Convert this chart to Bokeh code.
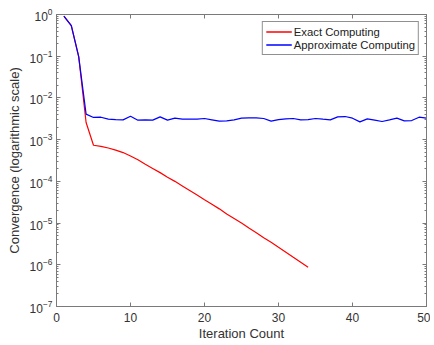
from bokeh.plotting import figure
from bokeh.models import (LinearAxis, LogAxis, FixedTicker, LogTickFormatter,
                          Legend, LegendItem)
from bokeh.embed import file_html
from bokeh.resources import INLINE

# ---- data ----
exact_iter = list(range(1, 35))
exact_conv = [0.91, 0.54, 0.098, 2.57e-3, 7.33e-4, 6.92e-4, 6.31e-4, 5.62e-4,
              4.90e-4, 4.07e-4, 3.31e-4, 2.57e-4, 2.04e-4, 1.62e-4, 1.26e-4,
              1.0e-4, 7.76e-5, 6.03e-5, 4.68e-5, 3.63e-5, 2.82e-5, 2.19e-5,
              1.66e-5, 1.29e-5, 1.0e-5, 7.59e-6, 5.89e-6, 4.47e-6, 3.47e-6,
              2.63e-6, 2.0e-6, 1.51e-6, 1.15e-6, 8.71e-7]

approx_iter = list(range(1, 51))
approx_conv = [0.91, 0.54, 0.098, 4.1e-3, 3.4e-3, 3.45e-3, 3.1e-3, 3.03e-3,
               2.98e-3, 3.65e-3, 2.93e-3, 2.98e-3, 2.93e-3, 3.52e-3, 2.93e-3,
               3.27e-3, 3.09e-3, 3.09e-3, 3.09e-3, 3.21e-3, 2.98e-3, 2.77e-3,
               2.82e-3, 2.98e-3, 3.27e-3, 3.33e-3, 3.33e-3, 3.21e-3, 2.77e-3,
               3.03e-3, 3.15e-3, 3.21e-3, 2.98e-3, 3.03e-3, 3.21e-3, 3.09e-3,
               2.98e-3, 3.52e-3, 3.58e-3, 3.27e-3, 2.67e-3, 3.15e-3, 2.93e-3,
               2.72e-3, 2.98e-3, 3.27e-3, 2.82e-3, 2.87e-3, 3.45e-3, 3.27e-3]

x_ticks = [0, 10, 20, 30, 40, 50]
y_ticks = [1e-7, 1e-6, 1e-5, 1e-4, 1e-3, 1e-2, 1e-1, 1e0]
y_minor = [m * 10.0 ** e for e in range(-7, 0) for m in range(2, 10)]

series_labels = ["Exact Computing", "Approximate Computing"]
series_colors = ["#ff0000", "#0000ff"]

FONT = "Liberation Sans"
AX_COL = "#7a7a7a"
TXT_COL = "#333333"

p = figure(width=430, height=343, y_axis_type="log",
           x_range=(0, 50), y_range=(1e-7, 1),
           output_backend="svg", toolbar_location=None,
           min_border_left=56, min_border_top=14, min_border_right=4,
           min_border_bottom=35)
p.background_fill_color = "white"
p.border_fill_color = "white"
p.xgrid.visible = False
p.ygrid.visible = False
p.outline_line_color = AX_COL
p.outline_line_width = 1

r_exact = p.line(exact_iter, exact_conv, line_color=series_colors[0], line_width=1.2)
r_approx = p.line(approx_iter, approx_conv, line_color=series_colors[1], line_width=1.2)

# legend keys: hidden copies placed outside the visible x range
k_exact = p.line([-10, -9], [1e-9, 1e-9], line_color=series_colors[0], line_width=1.6)
k_approx = p.line([-10, -9], [1e-9, 1e-9], line_color=series_colors[1], line_width=1.6)

xt = FixedTicker(ticks=x_ticks, minor_ticks=[])
yt = FixedTicker(ticks=y_ticks, minor_ticks=y_minor)


def style(ax, labels=True, standoff=4, label_standoff=4):
    ax.axis_line_color = AX_COL
    ax.major_tick_line_color = AX_COL
    ax.minor_tick_line_color = AX_COL
    ax.major_tick_in = 4
    ax.major_tick_out = 0
    ax.minor_tick_in = 2
    ax.minor_tick_out = 0
    ax.major_label_text_font = FONT
    ax.major_label_text_color = TXT_COL
    ax.axis_label_text_font = FONT
    ax.axis_label_text_color = TXT_COL
    ax.axis_label_text_font_style = "normal"
    if labels:
        ax.major_label_text_font_size = "12px"
        ax.axis_label_text_font_size = "13px"
        ax.major_label_standoff = standoff
        ax.axis_label_standoff = label_standoff
    else:
        ax.major_label_text_font_size = "0px"
        ax.major_label_standoff = 0
        ax.major_label_text_alpha = 0


xa = p.xaxis[0]
xa.ticker = xt
xa.axis_label = "Iteration Count"
style(xa, standoff=6, label_standoff=1)

ya = p.yaxis[0]
ya.ticker = yt
ya.formatter = LogTickFormatter()
ya.axis_label = "Convergence (logarithmic scale)"
style(ya, standoff=4, label_standoff=5)

top = LinearAxis(ticker=FixedTicker(ticks=x_ticks, minor_ticks=[]))
style(top, labels=False)
p.add_layout(top, "above")

right = LogAxis(ticker=FixedTicker(ticks=y_ticks, minor_ticks=y_minor))
style(right, labels=False)
p.add_layout(right, "right")

legend = Legend(items=[LegendItem(label=series_labels[0], renderers=[k_exact]),
                       LegendItem(label=series_labels[1], renderers=[k_approx])],
                location="top_right")
legend.margin = 7
legend.padding = 3
legend.spacing = 0
legend.label_height = 13
legend.glyph_height = 13
legend.glyph_width = 26
legend.label_standoff = 2
legend.label_text_font = FONT
legend.label_text_font_size = "11.3px"
legend.label_text_color = "#222222"
legend.border_line_color = "#222222"
legend.border_line_width = 1
legend.background_fill_color = "white"
legend.background_fill_alpha = 1
p.add_layout(legend, "center")

open("out.html", "w").write(file_html(p, INLINE))
